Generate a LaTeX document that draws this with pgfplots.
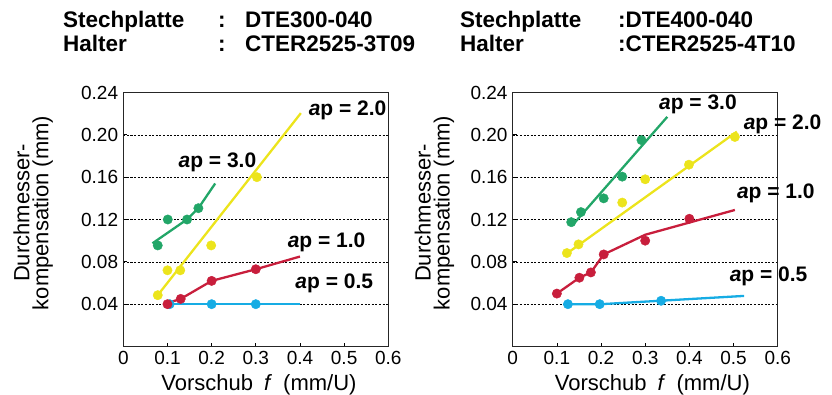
\documentclass[border=0pt]{standalone}
\usepackage{fontspec}
\setmainfont{Liberation Sans}
\usepackage{pgfplots}
\pgfplotsset{compat=1.18}
\definecolor{cgreen}{RGB}{34,166,104}
\definecolor{cyellow}{RGB}{236,228,28}
\definecolor{cred}{RGB}{200,30,60}
\definecolor{cblue}{RGB}{22,172,228}
\tikzset{
  aplab/.style={anchor=base west, font=\bfseries\fontsize{21}{21}\selectfont, inner sep=0pt},
  hdr/.style={anchor=base west, font=\bfseries\fontsize{22.5}{22.5}\selectfont, inner sep=0pt},
}
\pgfplotsset{
  chart/.style={
    scale only axis, width=265pt, height=254pt,
    xmin=0, xmax=0.6, ymin=0, ymax=0.24,
    xtick={0,0.1,0.2,0.3,0.4,0.5,0.6},
    xticklabels={0,0.1,0.2,0.3,0.4,0.5,0.6},
    ytick={0.04,0.08,0.12,0.16,0.20,0.24},
    yticklabels={0.04,0.08,0.12,0.16,0.20,0.24},
    xtick pos=lower, ytick pos=left,
    tick align=inside, major tick length=4pt,
    tick style={black, line width=0.7pt},
    axis line style={line width=1.3pt, black!85},
    ymajorgrids=true,
    grid style={black, line width=0.6pt, dash pattern=on 2pt off 1.6pt},
    tick label style={font=\fontsize{19}{19}\selectfont, inner sep=0pt},
    yticklabel style={xshift=-5pt},
    xticklabel style={yshift=-4.5pt},
    label style={font=\fontsize{22}{19}\selectfont},
    ylabel={Durchmesser-\\kompensation (mm)},
    xlabel={Vorschub\enspace\textit{f}\enspace(mm/U)},
    clip=false,
  },
  ser/.style={line width=2.3pt, color=#1},
  pts/.style={only marks, mark=*, mark size=4.7pt, color=#1},
}
\begin{document}
\begin{tikzpicture}
\path[use as bounding box] (0pt,0pt) rectangle (832pt,394pt);
% headers
\node[hdr] at (63pt,366pt) {Stechplatte};
\node[hdr] at (63pt,342pt) {Halter};
\node[hdr] at (218pt,366pt) {:};
\node[hdr] at (218pt,342pt) {:};
\node[hdr] at (245pt,366pt) {DTE300-040};
\node[hdr] at (245pt,342pt) {CTER2525-3T09};
\node[hdr] at (460pt,366pt) {Stechplatte};
\node[hdr] at (460pt,342pt) {Halter};
\node[hdr] at (618pt,366pt) {:DTE400-040};
\node[hdr] at (618pt,342pt) {:CTER2525-4T10};

% left chart
\begin{axis}[chart, at={(123.3pt,47.5pt)}, anchor=south west,
  ylabel style={at={(axis description cs:-0.34,0.526)}, anchor=center, align=center},
  xlabel style={at={(axis description cs:0.512,-0.175)}, anchor=base}]
% ap = 0.5 (blue)
\addplot[ser=cblue] coordinates {(0.10,0.04) (0.40,0.04)};
\addplot[pts=cblue] coordinates {(0.105,0.04) (0.20,0.04) (0.30,0.04)};
% ap = 1.0 (red)
\addplot[ser=cred] coordinates {(0.10,0.041) (0.13,0.045) (0.20,0.062) (0.30,0.073) (0.40,0.085)};
\addplot[pts=cred] coordinates {(0.10,0.040) (0.13,0.045) (0.20,0.062) (0.30,0.073)};
% ap = 2.0 (yellow)
\addplot[ser=cyellow] coordinates {(0.078,0.0485) (0.402,0.2205)};
\addplot[pts=cyellow] coordinates {(0.078,0.0485) (0.10,0.072) (0.129,0.072) (0.199,0.0955) (0.3025,0.160)};
% ap = 3.0 (green)
\addplot[ser=cgreen] coordinates {(0.066,0.0975) (0.144,0.120) (0.170,0.1307) (0.208,0.154)};
\addplot[pts=cgreen] coordinates {(0.078,0.0955) (0.1007,0.120) (0.1444,0.120) (0.170,0.1307)};
\node[aplab] at (axis cs:0.4195,0.218) {\textit{a}p = 2.0};
\node[aplab] at (axis cs:0.1247,0.169) {\textit{a}p = 3.0};
\node[aplab] at (axis cs:0.3719,0.094) {\textit{a}p = 1.0};
\node[aplab] at (axis cs:0.3893,0.0548) {\textit{a}p = 0.5};
\end{axis}

% right chart
\begin{axis}[chart, at={(512.7pt,47.5pt)}, anchor=south west,
  ylabel style={at={(axis description cs:-0.295,0.526)}, anchor=center, align=center},
  xlabel style={at={(axis description cs:0.527,-0.175)}, anchor=base}]
% ap = 0.5 (blue)
\addplot[ser=cblue] coordinates {(0.12,0.04) (0.20,0.04) (0.524,0.0478)};
\addplot[pts=cblue] coordinates {(0.125,0.04) (0.197,0.04) (0.336,0.0432)};
% ap = 1.0 (red)
\addplot[ser=cred] coordinates {(0.10,0.050) (0.151,0.065) (0.177,0.070) (0.206,0.087) (0.30,0.1056) (0.503,0.129)};
\addplot[pts=cred] coordinates {(0.10,0.050) (0.151,0.065) (0.177,0.070) (0.206,0.087) (0.30,0.100) (0.40,0.1207)};
% ap = 2.0 (yellow)
\addplot[ser=cyellow] coordinates {(0.123,0.088) (0.5075,0.203)};
\addplot[pts=cyellow] coordinates {(0.1227,0.0883) (0.149,0.0965) (0.248,0.136) (0.30,0.158) (0.399,0.1718) (0.503,0.198)};
% ap = 3.0 (green)
\addplot[ser=cgreen] coordinates {(0.134,0.114) (0.35,0.217)};
\addplot[pts=cgreen] coordinates {(0.1325,0.1175) (0.1545,0.127) (0.206,0.140) (0.248,0.1605) (0.2916,0.195)};
\node[aplab] at (axis cs:0.331,0.2242) {\textit{a}p = 3.0};
\node[aplab] at (axis cs:0.5227,0.2054) {\textit{a}p = 2.0};
\node[aplab] at (axis cs:0.5075,0.1395) {\textit{a}p = 1.0};
\node[aplab] at (axis cs:0.491,0.061) {\textit{a}p = 0.5};
\end{axis}
\end{tikzpicture}
\end{document}
